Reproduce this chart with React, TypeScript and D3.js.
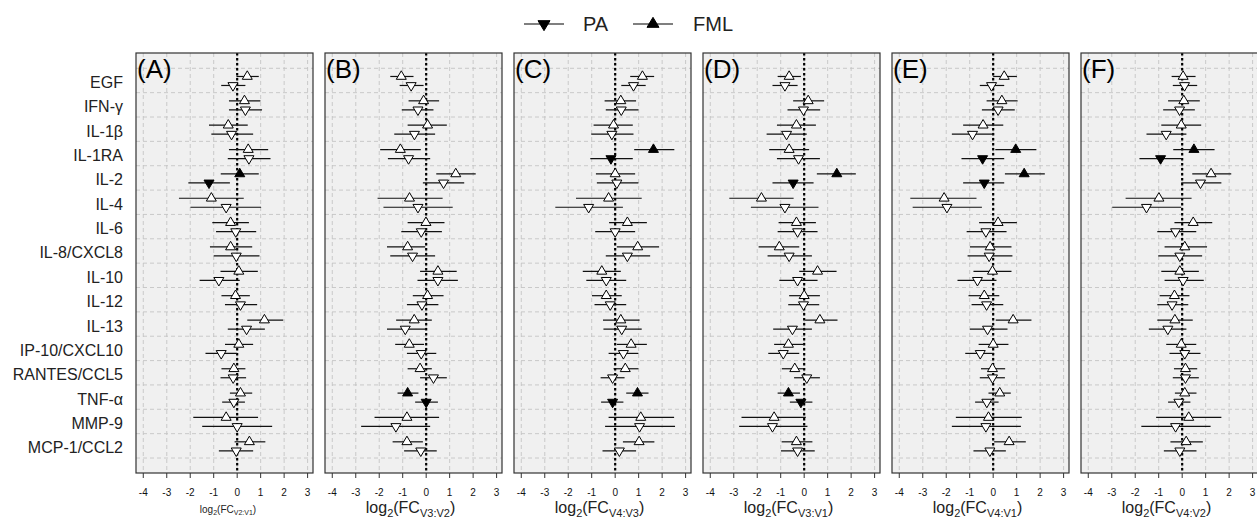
import React from 'react';
import * as d3 from 'd3';

// categories (top to bottom)
const cytokines = [
  'EGF', 'IFN-γ', 'IL-1β', 'IL-1RA', 'IL-2', 'IL-4', 'IL-6', 'IL-8/CXCL8',
  'IL-10', 'IL-12', 'IL-13', 'IP-10/CXCL10', 'RANTES/CCL5', 'TNF-α', 'MMP-9', 'MCP-1/CCL2',
];

// [estimate, lower, upper] per cytokine, log2 fold change
const fmlA = [[0.43, -0.03, 0.92], [0.31, -0.35, 0.99], [-0.38, -1.2, 0.45], [0.47, -0.35, 1.32], [0.11, -0.7, 0.92], [-1.1, -2.48, 0.28], [-0.28, -1.06, 0.5], [-0.28, -1.16, 0.64], [0.07, -0.71, 0.88], [-0.07, -0.67, 0.54], [1.16, 0.43, 1.96], [0.07, -0.52, 0.68], [-0.14, -0.67, 0.35], [0.14, -0.31, 0.64], [-0.47, -1.87, 0.89], [0.52, -0.11, 1.2]];
const paA = [[-0.18, -0.68, 0.35], [0.35, -0.35, 1.06], [-0.24, -1.1, 0.68], [0.5, -0.4, 1.42], [-1.2, -2.08, -0.31], [-0.47, -1.99, 1.02], [-0.06, -0.9, 0.81], [-0.04, -1.0, 0.95], [-0.78, -1.6, 0.11], [0.14, -0.52, 0.85], [0.4, -0.4, 1.18], [-0.68, -1.35, 0], [-0.17, -0.71, 0.38], [-0.14, -0.64, 0.33], [0, -1.49, 1.49], [-0.04, -0.78, 0.68]];

const fmlB = [[-1.06, -1.53, -0.54], [-0.11, -0.75, 0.55], [0.06, -0.79, 0.88], [-1.1, -1.96, -0.23], [1.26, 0.43, 2.11], [-0.71, -2.07, 0.7], [-0.01, -0.79, 0.78], [-0.79, -1.67, -0.04], [0.5, -0.26, 1.3], [0.06, -0.57, 0.74], [-0.51, -1.28, 0.24], [-0.72, -1.32, -0.09], [-0.26, -0.79, 0.24], [-0.79, -1.22, -0.33], [-0.82, -2.2, 0.55], [-0.82, -1.43, -0.14]];
const paB = [[-0.64, -1.13, -0.11], [-0.35, -1.04, 0.31], [-0.5, -1.36, 0.38], [-0.75, -1.63, 0.17], [0.74, -0.14, 1.62], [-0.35, -1.82, 1.13], [-0.21, -1.06, 0.67], [-0.58, -1.53, 0.38], [0.5, -0.37, 1.35], [-0.18, -0.82, 0.52], [-0.89, -1.67, 0], [-0.21, -0.82, 0.43], [0.31, -0.26, 0.88], [0, -0.47, 0.5], [-1.29, -2.77, 0.17], [-0.23, -0.94, 0.45]];

const fmlC = [[1.16, 0.64, 1.66], [0.24, -0.45, 0.89], [-0.07, -0.92, 0.75], [1.63, 0.81, 2.52], [0, -0.82, 0.85], [-0.28, -1.67, 1.13], [0.52, -0.26, 1.35], [0.96, 0.07, 1.87], [-0.57, -1.38, 0.24], [-0.38, -0.99, 0.28], [0.24, -0.52, 1.04], [0.68, 0.07, 1.35], [0.43, -0.07, 0.99], [0.95, 0.47, 1.42], [1.09, -0.28, 2.51], [1.02, 0.33, 1.67]];
const paC = [[0.78, 0.26, 1.3], [0.26, -0.4, 0.99], [-0.14, -1.02, 0.78], [-0.18, -1.06, 0.75], [0.07, -0.78, 0.99], [-1.13, -2.55, 0.33], [0, -0.85, 0.85], [0.52, -0.4, 1.49], [-0.38, -1.23, 0.47], [-0.21, -0.88, 0.47], [0.28, -0.5, 1.13], [0.35, -0.28, 0.99], [-0.11, -0.62, 0.4], [-0.11, -0.6, 0.35], [1.04, -0.43, 2.55], [0.18, -0.54, 0.89]];

const fmlD = [[-0.64, -1.13, -0.14], [0.17, -0.47, 0.85], [-0.33, -1.16, 0.5], [-0.64, -1.49, 0.21], [1.39, 0.54, 2.2], [-1.82, -3.19, -0.45], [-0.33, -1.09, 0.5], [-1.06, -1.94, -0.21], [0.57, -0.21, 1.38], [0, -0.64, 0.67], [0.67, 0.04, 1.42], [-0.67, -1.28, 0], [-0.4, -0.95, 0.04], [-0.67, -1.13, -0.18], [-1.28, -2.67, 0.07], [-0.33, -0.96, 0.35]];
const paD = [[-0.82, -1.35, -0.28], [-0.03, -0.71, 0.68], [-0.75, -1.6, 0.11], [-0.24, -1.16, 0.67], [-0.47, -1.35, 0.4], [-0.82, -2.27, 0.61], [-0.28, -1.13, 0.57], [-0.64, -1.56, 0.33], [-0.28, -1.06, 0.57], [-0.03, -0.68, 0.64], [-0.5, -1.32, 0.33], [-0.89, -1.53, -0.21], [0.11, -0.43, 0.67], [-0.14, -0.61, 0.35], [-1.35, -2.77, 0.14], [-0.28, -0.99, 0.45]];

const fmlE = [[0.47, 0, 1.01], [0.37, -0.28, 1.04], [-0.43, -1.28, 0.43], [0.96, 0.09, 1.84], [1.32, 0.5, 2.2], [-2.09, -3.53, -0.71], [0.21, -0.6, 1.01], [-0.13, -0.99, 0.78], [-0.03, -0.84, 0.78], [-0.38, -1.05, 0.26], [0.85, 0.11, 1.63], [0, -0.62, 0.65], [-0.03, -0.52, 0.51], [0.28, -0.2, 0.75], [-0.2, -1.59, 1.22], [0.68, 0.04, 1.39]];
const paE = [[-0.07, -0.57, 0.47], [0.21, -0.48, 0.92], [-0.88, -1.76, 0.04], [-0.45, -1.35, 0.47], [-0.38, -1.28, 0.47], [-1.97, -3.43, -0.48], [-0.31, -1.13, 0.57], [-0.17, -1.09, 0.82], [-0.67, -1.52, 0.14], [-0.28, -0.92, 0.43], [-0.24, -0.99, 0.61], [-0.55, -1.19, 0.04], [-0.03, -0.57, 0.5], [-0.27, -0.77, 0.23], [-0.31, -1.76, 1.18], [-0.14, -0.84, 0.54]];

const fmlF = [[0.04, -0.45, 0.57], [0.07, -0.6, 0.75], [-0.04, -0.89, 0.81], [0.5, -0.38, 1.38], [1.23, 0.43, 2.09], [-0.99, -2.41, 0.4], [0.47, -0.33, 1.28], [0.11, -0.75, 1.06], [-0.1, -0.89, 0.71], [-0.33, -0.96, 0.31], [-0.31, -1.06, 0.45], [-0.04, -0.68, 0.6], [0.14, -0.35, 0.64], [0.11, -0.31, 0.61], [0.28, -1.11, 1.67], [0.17, -0.5, 0.88]];
const paF = [[0.1, -0.4, 0.64], [-0.11, -0.81, 0.54], [-0.68, -1.52, 0.18], [-0.92, -1.82, -0.03], [0.78, -0.04, 1.67], [-1.52, -2.98, -0.04], [-0.28, -1.06, 0.6], [-0.1, -1.02, 0.85], [0.04, -0.75, 0.92], [-0.43, -1.06, 0.26], [-0.61, -1.42, 0.18], [0.11, -0.54, 0.78], [0.14, -0.4, 0.71], [-0.14, -0.6, 0.35], [-0.28, -1.74, 1.21], [-0.1, -0.78, 0.61]];

// cytokines drawn filled (significant) in each panel
const sigA = ['IL-2'];
const sigB = ['TNF-α'];
const sigC = ['IL-1RA', 'TNF-α'];
const sigD = ['IL-2', 'TNF-α'];
const sigE = ['IL-1RA', 'IL-2'];
const sigF = ['IL-1RA'];

const panelTags = ['(A)', '(B)', '(C)', '(D)', '(E)', '(F)'];
const contrasts = ['V2:V1', 'V3:V2', 'V4:V3', 'V3:V1', 'V4:V1', 'V4:V2'];
const xTicks = [-4, -3, -2, -1, 0, 1, 2, 3];

const panels = [
  { fml: fmlA, pa: paA, sig: sigA },
  { fml: fmlB, pa: paB, sig: sigB },
  { fml: fmlC, pa: paC, sig: sigC },
  { fml: fmlD, pa: paD, sig: sigD },
  { fml: fmlE, pa: paE, sig: sigE },
  { fml: fmlF, pa: paF, sig: sigF },
];

const W = 1257;
const H = 520;
const left0 = 136;
const stride = 189;
const pw = 177;
const top = 53;
const bottom = 473;
const font = 'Liberation Sans, Arial, Helvetica, sans-serif';

const y = d3.scaleBand<string>().domain(cytokines).range([68.3, 458]);

const triUp = (cx: number, cy: number, w = 5, h = 8.5) =>
  `M${cx - w},${cy + h / 3}L${cx + w},${cy + h / 3}L${cx},${cy - (2 * h) / 3}Z`;
const triDown = (cx: number, cy: number, w = 5, h = 8.5) =>
  `M${cx - w},${cy - h / 3}L${cx + w},${cy - h / 3}L${cx},${cy + (2 * h) / 3}Z`;

const Panel = ({ i }: { i: number }) => {
  const p = panels[i];
  const x0 = left0 + i * stride;
  const x = d3.scaleLinear().domain([-4.31, 3.23]).range([x0, x0 + pw]);
  const bounds = cytokines.map((c) => y(c)!).concat([y.range()[1]]);
  const small = i === 0;
  const fs = small ? 10 : 16;
  const sub = small ? 7 : 11;
  return (
    <g>
      <rect x={x0} y={top} width={pw} height={bottom - top} fill="#f0f0f0" />
      {xTicks.map((t) => (
        <line key={'v' + t} x1={x(t)} x2={x(t)} y1={top} y2={bottom} stroke="#c4c4c4" strokeWidth={0.9} strokeDasharray="4,3" />
      ))}
      {bounds.map((b, k) => (
        <line key={'h' + k} x1={x0} x2={x0 + pw} y1={b} y2={b} stroke="#c4c4c4" strokeWidth={0.9} strokeDasharray="4,3" />
      ))}
      <line x1={x(0)} x2={x(0)} y1={top} y2={bottom} stroke="#000" strokeWidth={2.2} strokeDasharray="2.5,2.5" />
      {cytokines.map((c, k) => {
        const cy = y(c)! + y.bandwidth() / 2;
        const filled = p.sig.includes(c);
        const f = p.fml[k];
        const d = p.pa[k];
        const yu = cy - 4;
        const yd = cy + 5;
        return (
          <g key={c}>
            <line x1={x(f[1])} x2={x(f[2])} y1={yu} y2={yu} stroke="#111" strokeWidth={1.2} />
            <line x1={x(d[1])} x2={x(d[2])} y1={yd} y2={yd} stroke="#111" strokeWidth={1.2} />
            <path d={triUp(x(f[0]), yu)} fill={filled ? '#000' : '#fff'} stroke="#000" strokeWidth={1} />
            <path d={triDown(x(d[0]), yd)} fill={filled ? '#000' : '#fff'} stroke="#000" strokeWidth={1} />
          </g>
        );
      })}
      <rect x={x0} y={top} width={pw} height={bottom - top} fill="none" stroke="#333" strokeWidth={1.2} />
      <text x={x0 + 1} y={77.5} fontFamily={font} fontSize={26} fill="#000">{panelTags[i]}</text>
      {xTicks.map((t) => (
        <g key={'t' + t}>
          <line x1={x(t)} x2={x(t)} y1={bottom} y2={bottom + 5} stroke="#333" strokeWidth={1} />
          <text x={x(t)} y={492} textAnchor="middle" dominantBaseline="central" fontFamily={font} fontSize={10} fill="#111">{t}</text>
        </g>
      ))}
      <text x={small ? 228 : x0 + pw / 2 - 3} y={513} textAnchor="middle" fontFamily={font} fontSize={fs} fill="#222">
        log<tspan fontSize={sub} dy={small ? 2 : 4}>2</tspan>
        <tspan dy={small ? -2 : -4}>(FC</tspan>
        <tspan fontSize={sub} dy={small ? 2 : 4}>{contrasts[i]}</tspan>
        <tspan dy={small ? -2 : -4}>)</tspan>
      </text>
    </g>
  );
};

export default function App() {
  return (
    <svg width={W} height={H} style={{ position: 'absolute', left: 0, top: 0, background: '#fff' }}>
      <rect width={W} height={H} fill="#fff" />
      {/* legend */}
      <g>
        <line x1={524} x2={564} y1={24} y2={24} stroke="#000" strokeWidth={1.2} />
        <path d={triDown(544, 24, 6, 10)} fill="#000" stroke="#000" />
        <text x={583} y={24} dominantBaseline="central" fontFamily={font} fontSize={20} fill="#222">PA</text>
        <line x1={633} x2={673} y1={24} y2={24} stroke="#000" strokeWidth={1.2} />
        <path d={triUp(653, 24, 6, 10)} fill="#000" stroke="#000" />
        <text x={693} y={24} dominantBaseline="central" fontFamily={font} fontSize={20} fill="#222">FML</text>
      </g>
      {cytokines.map((c) => (
        <text key={c} x={123} y={y(c)! + y.bandwidth() / 2 + 2} textAnchor="end" dominantBaseline="central" fontFamily={font} fontSize={16} fill="#222">
          {c}
        </text>
      ))}
      {panels.map((_, i) => (
        <Panel key={i} i={i} />
      ))}
    </svg>
  );
}
